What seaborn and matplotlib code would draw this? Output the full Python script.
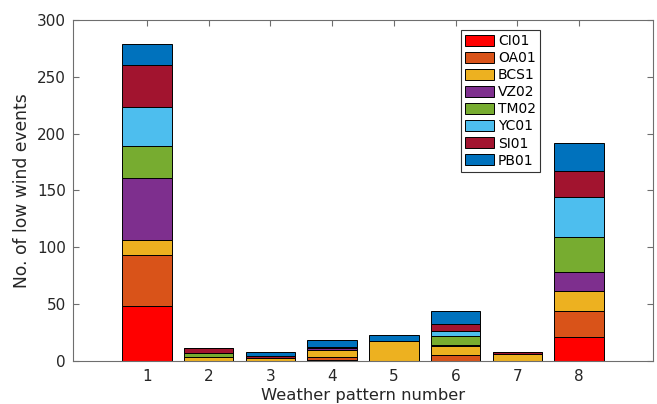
import numpy as np
import pandas as pd
import matplotlib
matplotlib.use("Agg")
import matplotlib.pyplot as plt
from matplotlib.patches import Patch
import seaborn as sns

# ---- data -------------------------------------------------------------
patterns = [1, 2, 3, 4, 5, 6, 7, 8]
stations = ["CI01", "OA01", "BCS1", "VZ02", "TM02", "YC01", "SI01", "PB01"]
CI01 = [48, 0, 0, 1, 0, 0, 0, 21]
OA01 = [45, 0, 0, 2, 0, 5, 0, 23]
BCS1 = [13, 3, 2, 6, 17, 8, 6, 17]
VZ02 = [55, 0, 0, 2, 0, 1, 0, 17]
TM02 = [28, 4, 0, 0, 0, 8, 0, 31]
YC01 = [34, 0, 0, 0, 0, 4, 0, 35]
SI01 = [37, 4, 2, 1, 0, 6, 2, 23]
PB01 = [19, 0, 4, 6, 6, 12, 0, 25]
colors = ["#FF0000", "#D95319", "#EDB120", "#7E2F8E",
          "#77AC30", "#4DBEEE", "#A2142F", "#0072BD"]

series = [CI01, OA01, BCS1, VZ02, TM02, YC01, SI01, PB01]
rows = []
for name, vals in zip(stations, series):
    for p, v in zip(patterns, vals):
        rows.append({"pattern": p, "station": name, "count": v})
df = pd.DataFrame(rows)

# ---- style ------------------------------------------------------------
sns.set_theme(style="ticks")
plt.rcParams['font.family'] = ['DejaVu Sans']
txt = "#262626"
spine_c = "#6e6e6e"

fig = plt.figure(figsize=(6.57, 4.04), dpi=100)
ax = fig.add_axes([0.1107, 0.1072, 0.8837, 0.8433])

palette = dict(zip(stations, colors))
sns.histplot(data=df, x="pattern", weights="count", hue="station",
             hue_order=stations[::-1], palette=palette,
             multiple="stack", discrete=True, shrink=0.8,
             edgecolor="black", linewidth=0.7, alpha=1,
             legend=False, ax=ax)

ax.set_xlim(-0.2, 9.2)
ax.set_ylim(0, 300)
ax.set_xticks(patterns)
ax.set_yticks(np.arange(0, 301, 50))
ax.tick_params(direction="in", top=True, right=True, length=4.5, width=0.8,
               color=spine_c, labelcolor=txt, labelsize=11)
ax.tick_params(axis="x", pad=6)
ax.tick_params(axis="y", pad=5)
for s in ax.spines.values():
    s.set_color(spine_c)
    s.set_linewidth(0.8)

ax.set_xlabel("Weather pattern number", fontsize=11.8, color=txt, labelpad=3)
ax.set_ylabel("No. of low wind events", fontsize=12.3, color=txt, labelpad=4)

handles = [Patch(facecolor=c, edgecolor="black", linewidth=0.7) for c in colors]
leg = ax.legend(handles, stations, loc="upper left",
                bbox_to_anchor=(0.668, 0.9706), fontsize=10,
                handlelength=2.1, handleheight=0.87, handletextpad=0.3,
                labelspacing=0.22, borderpad=0.3, borderaxespad=0,
                fancybox=False, framealpha=1, edgecolor="#333333")
leg.get_frame().set_linewidth(0.8)
for t in leg.get_texts():
    t.set_color("black")

fig.savefig("out.png", dpi=100)
